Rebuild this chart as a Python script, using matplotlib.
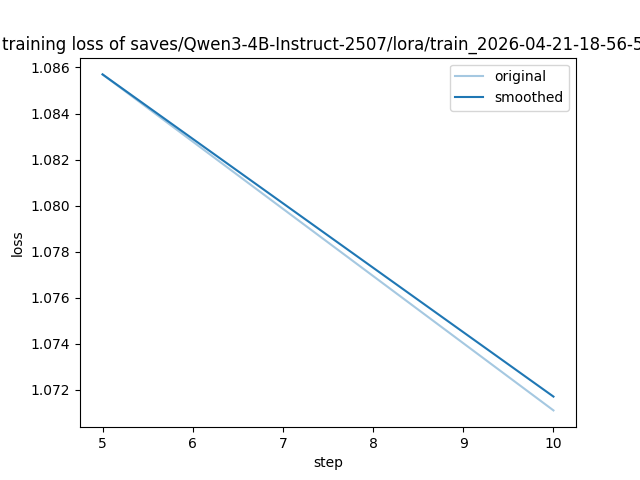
import matplotlib
matplotlib.use("Agg")
import matplotlib.pyplot as plt

steps = [5, 10]
losses = [1.0857, 1.0711]
smoothed = [1.0857, 1.0717]
title = "training loss of saves/Qwen3-4B-Instruct-2507/lora/train_2026-04-21-18-56-53"

plt.figure(figsize=(6.4, 4.8), dpi=100)
plt.plot(steps, losses, color="#1f77b4", alpha=0.4, label="original")
plt.plot(steps, smoothed, color="#1f77b4", label="smoothed")
plt.legend()
plt.title(title)
plt.xlabel("step")
plt.ylabel("loss")
plt.savefig("out.png", dpi=100)
